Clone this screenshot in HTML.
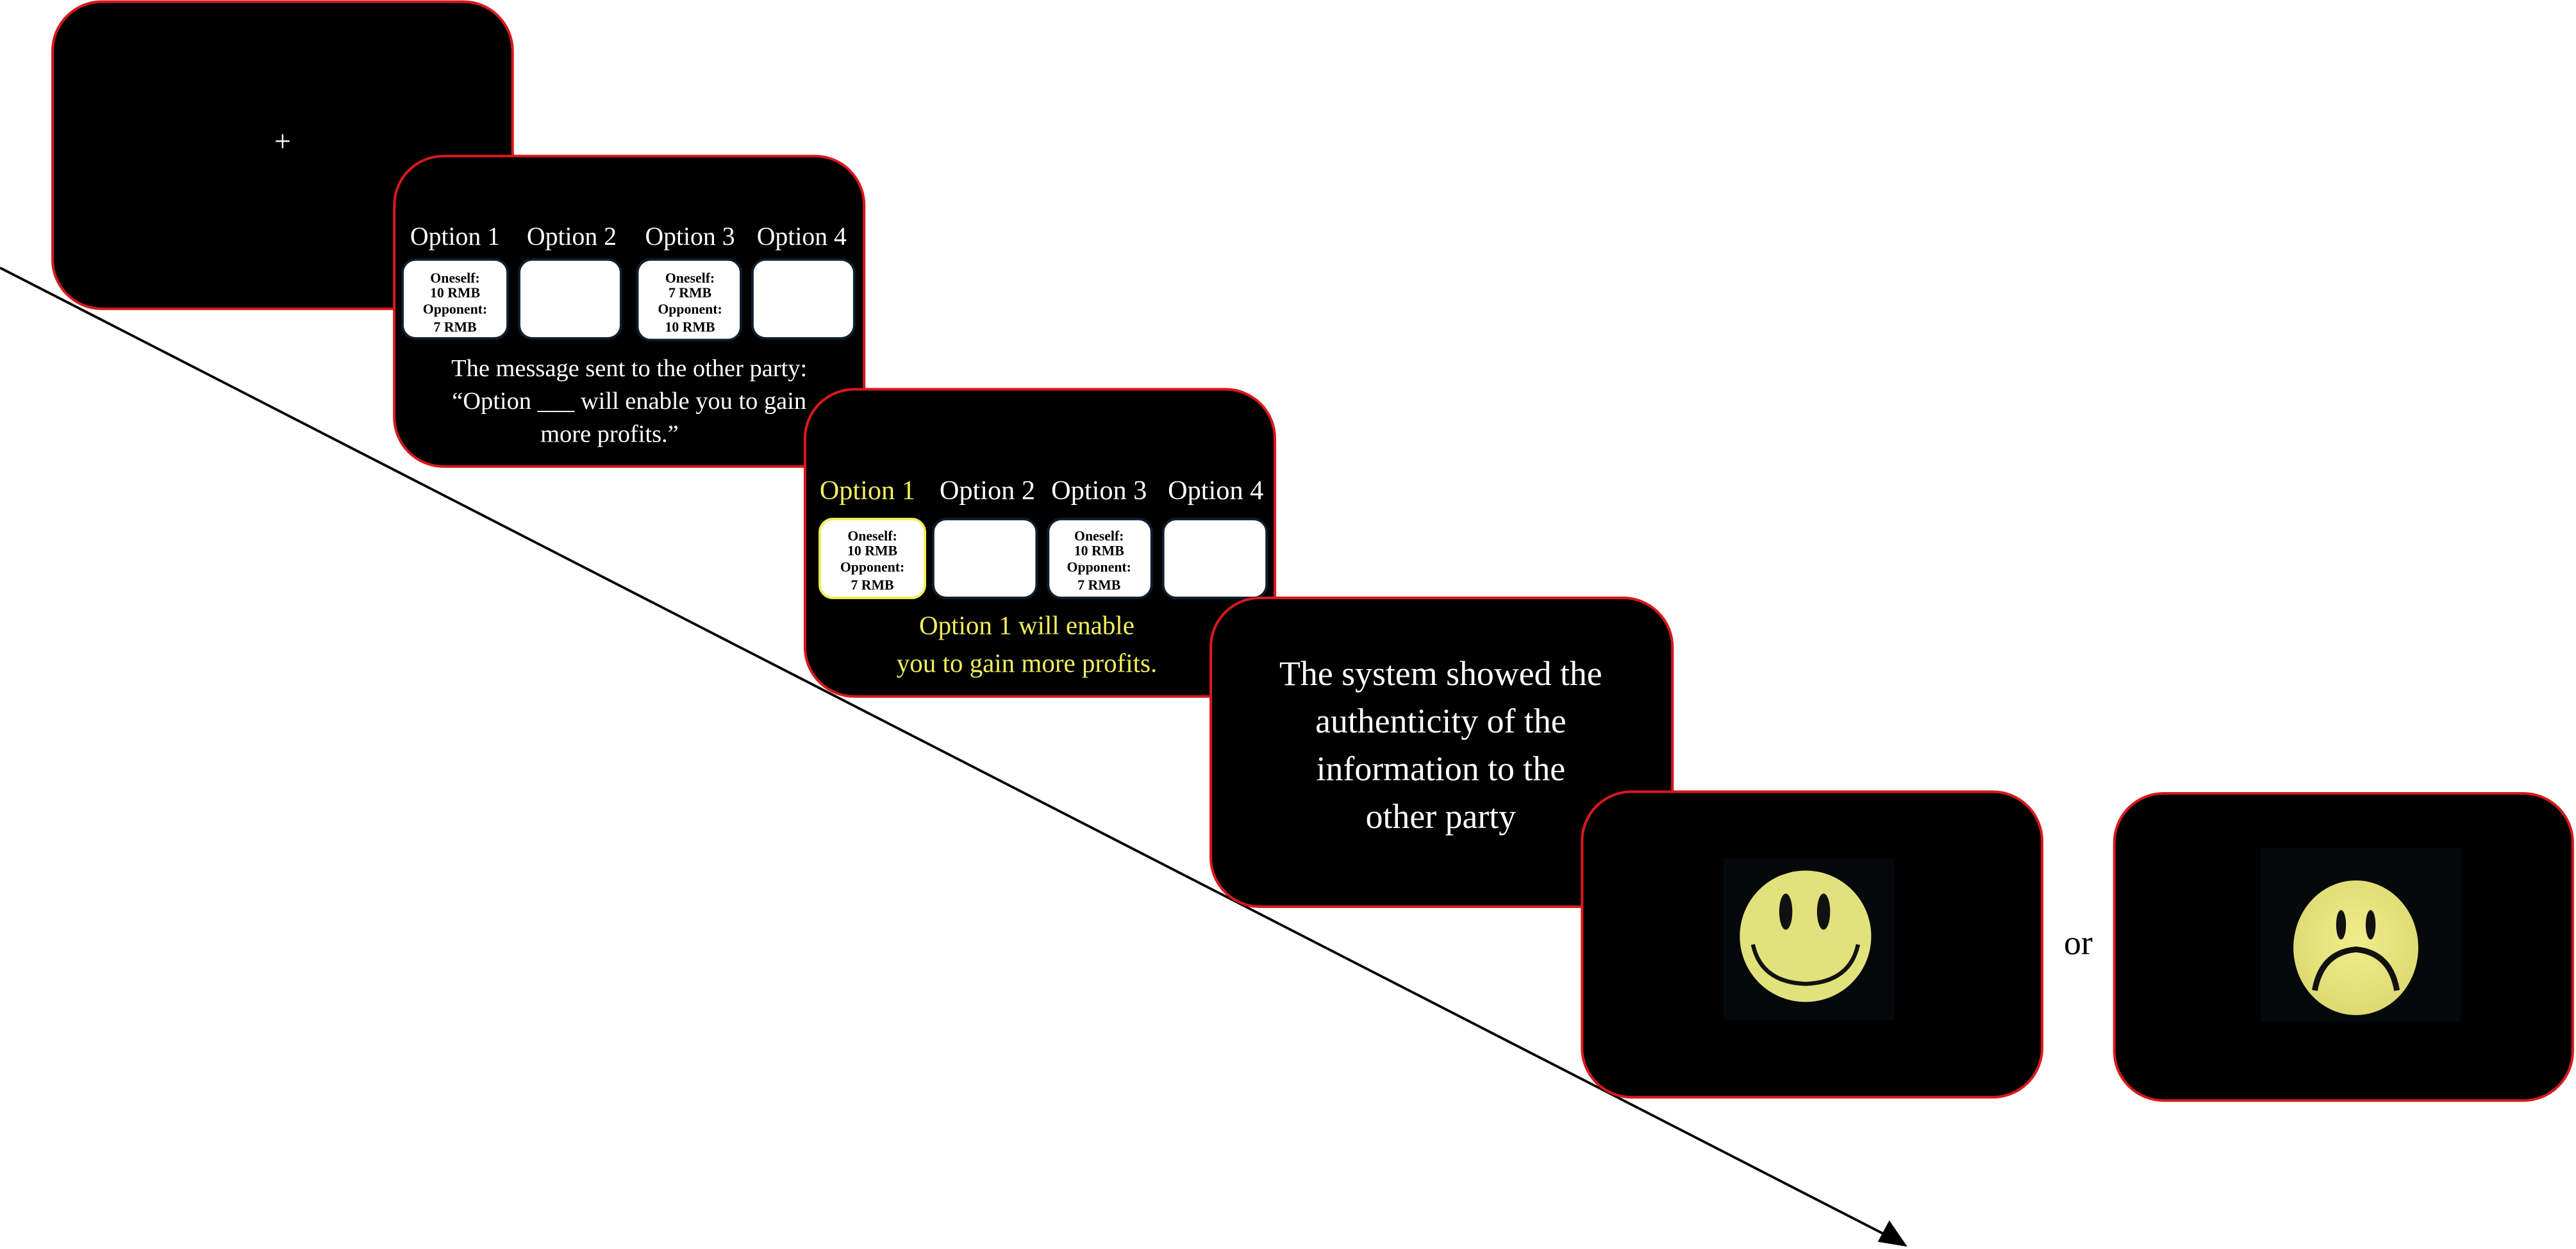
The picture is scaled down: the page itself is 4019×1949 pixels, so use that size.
<!DOCTYPE html>
<html><head><meta charset="utf-8"><style>
html,body{margin:0;padding:0;background:#fff;}
svg{display:block;}
text{font-family:"Liberation Serif",serif;}
</style></head><body>
<svg width="4019" height="1949" viewBox="0 0 1568 760.4" preserveAspectRatio="none" xmlns="http://www.w3.org/2000/svg">
<defs>
<radialGradient id="sad" cx="0.5" cy="0.45" r="0.6"><stop offset="0" stop-color="#f0ee8c"/><stop offset="1" stop-color="#dcd870"/></radialGradient>
</defs>
<line x1="0" y1="163" x2="1152" y2="754" stroke="#000" stroke-width="1.5"/>
<polygon points="1161,759 1143,756 1150,743" fill="#000"/>

<!-- box1 -->
<rect x="32" y="1" width="280" height="187" rx="30" fill="#000" stroke="#d7191c" stroke-width="1.6"/>
<text x="172" y="92" fill="#fff" font-size="18" text-anchor="middle">+</text>

<!-- box2 -->
<rect x="240" y="95" width="286" height="189" rx="30" fill="#000" stroke="#d7191c" stroke-width="1.6"/>
<g fill="#fff" font-size="15.5" text-anchor="middle">
<text x="277" y="149">Option 1</text><text x="348" y="149">Option 2</text><text x="420" y="149">Option 3</text><text x="488" y="149">Option 4</text>
</g>
<g fill="#fff" stroke="#0f1e2e" stroke-width="1.5">
<rect x="245" y="158" width="64" height="48" rx="8"/><rect x="316" y="158" width="62" height="48" rx="8"/>
<rect x="388" y="158" width="63" height="49" rx="8"/><rect x="458" y="158" width="62" height="48" rx="8"/>
</g>
<g fill="#000" font-size="8.5" font-weight="bold" text-anchor="middle">
<text x="277" y="172">Oneself:</text><text x="277" y="181">10 RMB</text><text x="277" y="191">Opponent:</text><text x="277" y="202">7 RMB</text>
<text x="420" y="172">Oneself:</text><text x="420" y="181">7 RMB</text><text x="420" y="191">Opponent:</text><text x="420" y="202">10 RMB</text>
</g>
<g fill="#fff" font-size="15" text-anchor="middle">
<text x="383" y="229">The message sent to the other party:</text>
<text x="383" y="249">“Option ___ will enable you to gain</text>
<text x="371" y="269">more profits.”</text>
</g>

<!-- box3 -->
<rect x="490" y="237" width="286" height="187" rx="30" fill="#000" stroke="#d7191c" stroke-width="1.6"/>
<g font-size="16.5" text-anchor="middle">
<text x="528" y="304" fill="#f2ee5a">Option 1</text><text x="601" y="304" fill="#fff">Option 2</text><text x="669" y="304" fill="#fff">Option 3</text><text x="740" y="304" fill="#fff">Option 4</text>
</g>
<g fill="#fff" stroke="#0f1e2e" stroke-width="1.5">
<rect x="499" y="316" width="64" height="48" rx="8" stroke="#f2ee5a"/><rect x="568" y="316" width="63" height="48" rx="8"/>
<rect x="638" y="316" width="63" height="48" rx="8"/><rect x="708" y="316" width="63" height="48" rx="8"/>
</g>
<g fill="#000" font-size="8.5" font-weight="bold" text-anchor="middle">
<text x="531" y="329">Oneself:</text><text x="531" y="338">10 RMB</text><text x="531" y="348">Opponent:</text><text x="531" y="359">7 RMB</text>
<text x="669" y="329">Oneself:</text><text x="669" y="338">10 RMB</text><text x="669" y="348">Opponent:</text><text x="669" y="359">7 RMB</text>
</g>
<g fill="#f2ee5a" font-size="16" text-anchor="middle">
<text x="625" y="386">Option 1 will enable</text>
<text x="625" y="409">you to gain more profits.</text>
</g>

<!-- box4 -->
<rect x="737" y="364" width="281" height="188" rx="30" fill="#000" stroke="#d7191c" stroke-width="1.6"/>
<g fill="#fff" font-size="21" text-anchor="middle">
<text x="877" y="417">The system showed the</text>
<text x="877" y="446">authenticity of the</text>
<text x="877" y="475">information to the</text>
<text x="877" y="504">other party</text>
</g>

<!-- box5 -->
<rect x="963" y="482" width="280" height="186" rx="30" fill="#000" stroke="#d7191c" stroke-width="1.6"/>
<rect x="1049" y="523" width="104" height="98" fill="#06090b"/>
<ellipse cx="1099" cy="570" rx="40" ry="40" fill="#e1e27c"/>
<ellipse cx="1087" cy="555" rx="4" ry="11" fill="#111"/>
<ellipse cx="1110" cy="555" rx="4" ry="11" fill="#111"/>
<path d="M1067,575 Q1072,598 1099,599 Q1126,598 1131,575" fill="none" stroke="#111" stroke-width="2.5"/>

<!-- or -->
<text x="1265" y="581" fill="#000" font-size="21" text-anchor="middle">or</text>

<!-- box6 -->
<rect x="1287" y="483" width="279" height="187" rx="30" fill="#000" stroke="#d7191c" stroke-width="1.6"/>
<rect x="1376" y="516" width="122" height="106" fill="#06090b"/>
<ellipse cx="1434" cy="577" rx="38" ry="41" fill="url(#sad)"/>
<ellipse cx="1425" cy="563" rx="3" ry="9" fill="#111"/>
<ellipse cx="1443" cy="563" rx="3" ry="9" fill="#111"/>
<path d="M1409,603 Q1413,580 1434,578 Q1455,580 1459,603" fill="none" stroke="#111" stroke-width="3.5"/>
</svg>
</body></html>
